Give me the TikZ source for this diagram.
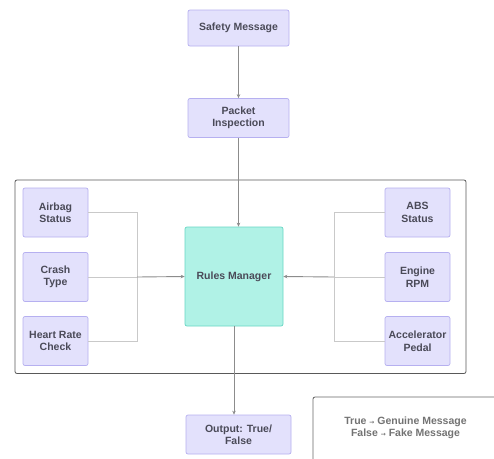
\documentclass[tikz,border=0pt]{standalone}
\usepackage{fontspec}
\setmainfont{Liberation Sans}
\newfontfamily\arrowfont{DejaVu Sans}
\usetikzlibrary{arrows.meta}
\definecolor{boxfill}{HTML}{E3E1FC}
\definecolor{boxline}{HTML}{B6B0F0}
\definecolor{rulefill}{HTML}{B0F2E6}
\definecolor{ruleline}{HTML}{68D6C4}
\definecolor{txt}{HTML}{4A4A58}
\definecolor{wire}{HTML}{C9C9C9}
\definecolor{mainwire}{HTML}{8C8C8C}
\tikzset{
  stepbox/.style={draw=boxline, fill=boxfill, line width=0.7pt, rounded corners=2pt,
    font=\fontsize{10.5}{12.5}\selectfont\bfseries, text=txt, align=center, inner sep=1pt},
  rulebox/.style={draw=ruleline, fill=rulefill, line width=0.7pt, rounded corners=2pt,
    font=\fontsize{10.5}{12.5}\selectfont\bfseries, text=txt, align=center,
    minimum width=98pt, minimum height=99pt},
  branch/.style={draw=wire, line width=0.8pt},
  flow/.style={draw=mainwire, line width=0.9pt, -{Stealth[length=4pt,width=3.5pt]}},
}
\begin{document}
\begin{tikzpicture}[x=1pt,y=-1pt]
\useasboundingbox (0,0) rectangle (494,458);
\fill[white] (0,0) rectangle (494,458);

% group frame around the rule inputs
\draw[draw=black!65, line width=0.8pt, rounded corners=2pt] (15,180) rectangle (466,373.5);

% top chain
\node[stepbox, minimum width=101pt, minimum height=36pt] (safety) at (238.5,28) {Safety Message};
\node[stepbox, minimum width=101pt, minimum height=39pt] (packet) at (238.5,118) {Packet\\Inspection};
\node[rulebox] (rules) at (234,276.5) {Rules Manager};
\node[stepbox, minimum width=105pt, minimum height=39pt] (output) at (238.5,434.5) {Output: True/\\False};

% left inputs
\node[stepbox, minimum width=65pt, minimum height=49pt] (airbag) at (55.5,212.5) {Airbag\\Status};
\node[stepbox, minimum width=65pt, minimum height=49pt] (crash) at (55.5,277) {Crash\\Type};
\node[stepbox, minimum width=65pt, minimum height=49pt] (heart) at (55.5,341) {Heart Rate\\Check};

% right inputs
\node[stepbox, minimum width=65pt, minimum height=49pt] (abs) at (417.5,212.5) {ABS\\Status};
\node[stepbox, minimum width=65pt, minimum height=49pt] (engine) at (417.5,277) {Engine\\RPM};
\node[stepbox, minimum width=65pt, minimum height=49pt] (accel) at (417.5,341) {Accelerator\\Pedal};

% merge points
\coordinate (jl) at (137,277);
\coordinate (jr) at (334,277);

% left branches
\draw[branch] (airbag.east) -| (jl);
\draw[branch] (heart.east) -| (jl);
\draw[branch] (crash.east) -- (jl);
\draw[flow] (jl) -- (rules.west);

% right branches
\draw[branch] (abs.west) -| (jr);
\draw[branch] (accel.west) -| (jr);
\draw[branch] (engine.west) -- (jr);
\draw[flow] (jr) -- (rules.east);

% vertical flow
\draw[flow] (safety.south) -- (packet.north);
\draw[flow] (packet.south) -- (packet.south |- rules.north);
\draw[flow] (rules.south) -- (rules.south |- output.north);

% legend
\draw[draw=black!60, line width=0.8pt, rounded corners=2pt] (313,397) rectangle (505,470);
\node[font=\fontsize{10.5}{12.5}\selectfont\bfseries, text=black!55, align=center] (legend) at (405.5,428)
  {True {\arrowfont\fontsize{6}{12}\selectfont →} Genuine Message\\False {\arrowfont\fontsize{6}{12}\selectfont →} Fake Message};
\end{tikzpicture}
\end{document}
